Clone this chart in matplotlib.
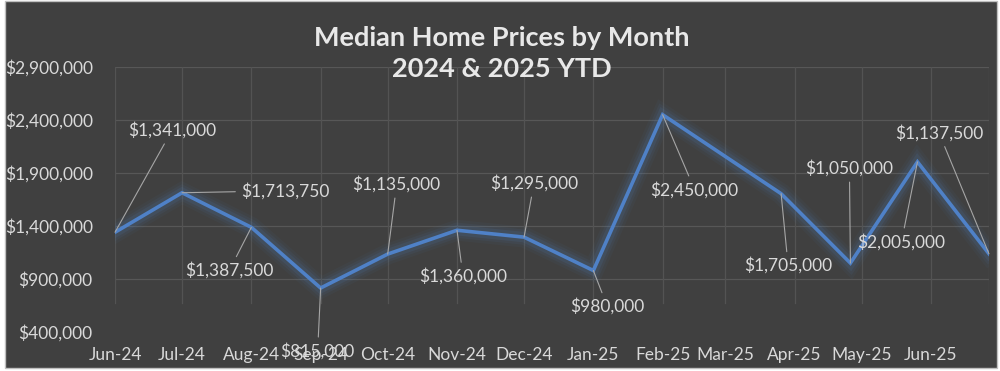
import pandas as pd
import matplotlib
matplotlib.use('Agg')
import matplotlib.pyplot as plt
import matplotlib.dates as mdates
from matplotlib.patches import Rectangle

# data
dates = ['2024-06-01', '2024-07-01', '2024-08-01', '2024-09-01', '2024-10-01', '2024-11-01',
         '2024-12-01', '2025-01-01', '2025-02-01', '2025-03-26', '2025-04-26', '2025-05-26',
         '2025-06-27']
prices = [1341000, 1713750, 1387500, 815000, 1135000, 1360000, 1295000, 980000,
          2450000, 1705000, 1050000, 2005000, 1137500]
y_ticks = [400000, 900000, 1400000, 1900000, 2400000, 2900000]

# where each data label sits relative to its point (pixels)
label_offsets = [(57, 102), (103, 2), (-22, -43), (-3, -63), (9, 70), (6, -46), (10, 54),
                 (14, -36), (32, -75), (7, -72), (-1, 95), (-16, -80), (-50, 121)]

bg = '#404040'
txt = '#D9D9D9'
plt.rcParams['font.family'] = ['Lato', 'DejaVu Sans']

x = pd.to_datetime(dates)

fig = plt.figure(figsize=(10, 3.71), dpi=100)
fig.patch.set_facecolor('white')
fig.patches.append(Rectangle((0.005, 0.0081), 0.992, 0.989, transform=fig.transFigure,
                             facecolor=bg, edgecolor='#BFBFBF', lw=1, zorder=-5))

ax = fig.add_axes([0.115, 0.1051, 0.874, 0.7143])
ax.set_facecolor(bg)
for s in ax.spines.values():
    s.set_visible(False)

ax.set_ylim(400000, 2900000)
ax.set_xlim(x[0], x[-1])
ax.set_yticks(y_ticks)
ax.set_yticklabels(['${:,.0f}'.format(v) for v in y_ticks])
ax.xaxis.set_major_locator(mdates.MonthLocator())
ax.xaxis.set_major_formatter(mdates.DateFormatter('%b-%y'))
ax.tick_params(axis='both', length=0, colors=txt, labelsize=12.5)
ax.tick_params(axis='y', pad=16)
ax.tick_params(axis='x', pad=11)

# gridlines (the lowest one is not drawn, verticals fade out near the bottom)
for v in y_ticks[1:]:
    ax.axhline(v, color='#575757', lw=0.9, zorder=0)
for t in mdates.MonthLocator().tick_values(x[0], x[-1]):
    ax.axvline(t, ymin=0.11, color='#535353', lw=0.9, zorder=0)
ax.axvline(x[-1], ymin=0.11, color='#535353', lw=0.9, zorder=0)

# glow around the line
for w, a in [(15, 0.05), (11, 0.08), (7.5, 0.12)]:
    ax.plot(x, prices, color='#4F81BD', lw=w, alpha=a, solid_joinstyle='miter', zorder=2)
ax.plot(x, prices, color='#4F81C7', lw=2.6, solid_joinstyle='miter', zorder=3)

for xi, p, off in zip(x, prices, label_offsets):
    ax.annotate('${:,.0f}'.format(p), xy=(xi, p), xytext=off, textcoords='offset pixels',
                ha='center', va='center', fontsize=12.5, color=txt, zorder=5,
                annotation_clip=False,
                arrowprops=dict(arrowstyle='-', color='#A6A6A6', lw=0.8, shrinkA=2, shrinkB=0))

fig.text(0.502, 0.856, 'Median Home Prices by Month\n2024 & 2025 YTD', ha='center', va='center',
         fontsize=19.5, fontweight='bold', color='#E8E8E8', linespacing=1.37, zorder=6)

fig.savefig('out.png', dpi=100, facecolor=fig.get_facecolor())
